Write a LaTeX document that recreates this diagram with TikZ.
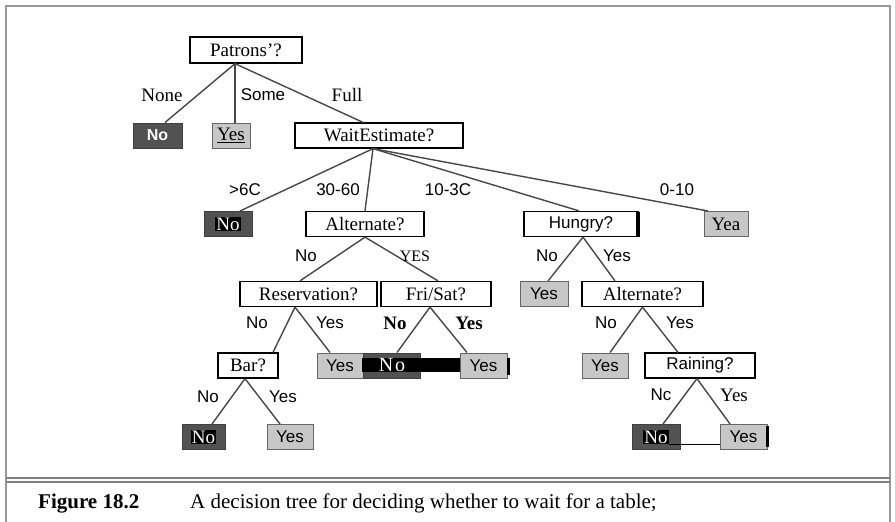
\documentclass[tikz,border=0pt]{standalone}
\usepackage{fontspec}
\setmainfont{Liberation Serif}
\setsansfont{Liberation Sans}
\begin{document}
\begin{tikzpicture}[x=1pt,y=-1pt,
 every node/.style={inner sep=0pt},
 sf/.style={font=\fontsize{17}{20}\selectfont\sffamily},
 rm/.style={font=\fontsize{19}{22}\selectfont\rmfamily},
 rmb/.style={font=\fontsize{19}{22}\selectfont\rmfamily\bfseries},
 capf/.style={font=\fontsize{21}{24}\selectfont\rmfamily},
 box/.style={minimum height=25pt, anchor=center},
 wbox/.style={box, draw=black, line width=1.3pt, fill=white},
 gbox/.style={box, draw=black!60, line width=1pt, fill=black!22},
 dbox/.style={box, draw=black!75, line width=1pt, fill=black!68, text=white},
 hl/.style={fill=black, text=white, inner sep=1pt},
 edge/.style={draw=black!72, line width=1.4pt},
 framel/.style={draw=black!40, line width=2pt},
 rule/.style={draw=black!50, line width=1.2pt}]
\useasboundingbox (0,0) rectangle (895,522);
% frame
\draw[framel] (6,522) -- (6,6) -- (890,6) -- (890,522);
\draw[rule] (6,478) -- (890,478);
\draw[rule] (6,482) -- (890,482);

% row 1
\node[wbox, rm, minimum width=112pt, minimum height=26pt] (pat) at (246,50) {Patrons'?};
% row 2
\node[dbox, font=\fontsize{16}{19}\selectfont\sffamily\bfseries, minimum width=49pt] (n1) at (157.5,135.5) {No};
\node[gbox, rm, minimum width=38pt] (y1) at (231,135.5) {\underline{Yes}};
\node[wbox, rm, minimum width=168pt] (wait) at (379,135.5) {WaitEstimate?};
% row 3
\node[dbox, minimum width=48pt] (n2) at (228,224) {};
\node[hl, rm] (n2t) at (n2) {No};
\node[wbox, rm, minimum width=118pt] (alt1) at (365,224) {Alternate?};
\node[wbox, sf, minimum width=114pt] (hun) at (581,224) {Hungry?};
\fill[black] (636,211.5) rectangle (640,236.5);
\node[gbox, rm, minimum width=44pt] (yea) at (726,224) {Yea};
% row 4
\node[wbox, rm, minimum width=137pt] (res) at (308.5,294) {Reservation?};
\node[wbox, rm, minimum width=110pt] (fri) at (436,294) {Fri/Sat?};
\node[gbox, sf, minimum width=48pt] (y2) at (544,294) {Yes};
\node[wbox, rm, minimum width=121pt] (alt2) at (642.5,294) {Alternate?};
% row 5
\node[wbox, rm, minimum width=60pt] (bar) at (248,365.5) {Bar?};
\node[gbox, sf, minimum width=46pt] (y3) at (340,365.5) {Yes};
\node[dbox, minimum width=57pt] (n3) at (391.5,365.5) {};
\fill[black] (362,358) rectangle (460,372);
\node[text=white, font=\fontsize{20}{22}\selectfont\rmfamily] (n3t) at (392,365) {N\kern2pt o};
\node[gbox, sf, minimum width=47pt] (y4) at (483.5,365.5) {Yes};
\fill[black] (507,358) rectangle (510,375);
\node[gbox, sf, minimum width=46pt] (y5) at (605,365.5) {Yes};
\node[wbox, sf, minimum width=110pt] (rain) at (700,365.5) {Raining?};
% row 6
\node[dbox, minimum width=43pt] (n4) at (203.5,437) {};
\node[hl, rm] (n4t) at (n4) {No};
\node[gbox, sf, minimum width=46pt] (y6) at (290,437) {Yes};
\node[dbox, minimum width=48pt] (n5) at (656,437) {};
\node[hl, rm] (n5t) at (n5) {No};
\node[gbox, sf, minimum width=47pt] (y7) at (743.5,437) {Yes};
\fill[black] (766,426) rectangle (769,447);
\draw[black, line width=1pt] (n5t.south east) -- (y7.west |- n5t.south east);

% edges
\draw[edge] ([xshift=-11pt]pat.south) -- ([xshift=7.5pt]n1.north);
\draw[edge] ([xshift=-11pt]pat.south) -- ([xshift=4pt]y1.north);
\draw[edge] ([xshift=-11pt]pat.south) -- ([xshift=-16pt]wait.north);
\draw[edge] ([xshift=-6pt]wait.south) -- ([xshift=12pt]n2.north);
\draw[edge] ([xshift=-6pt]wait.south) -- (alt1.north);
\draw[edge] ([xshift=-6pt]wait.south) -- ([xshift=-2pt]hun.north);
\draw[edge] ([xshift=-6pt]wait.south) -- ([xshift=-18pt]yea.north);
\draw[edge] (alt1.south) -- ([xshift=-8.5pt]res.north);
\draw[edge] (alt1.south) -- ([xshift=2pt]fri.north);
\draw[edge] ([xshift=2pt]hun.south) -- ([xshift=4pt]y2.north);
\draw[edge] ([xshift=2pt]hun.south) -- ([xshift=-27.5pt]alt2.north);
\draw[edge] ([xshift=-13.5pt]res.south) -- ([xshift=25pt]bar.north);
\draw[edge] ([xshift=-13.5pt]res.south) -- ([xshift=-10pt]y3.north);
\draw[edge] ([xshift=-6pt]fri.south) -- ([xshift=5.5pt]n3.north);
\draw[edge] ([xshift=-6pt]fri.south) -- ([xshift=-16.5pt]y4.north);
\draw[edge] (alt2.south) -- ([xshift=5pt]y5.north);
\draw[edge] (alt2.south) -- ([xshift=-22pt]rain.north);
\draw[edge] ([xshift=-3pt]bar.south) -- ([xshift=8.5pt]n4.north);
\draw[edge] ([xshift=-3pt]bar.south) -- ([xshift=-10pt]y6.north);
\draw[edge] ([xshift=-3pt]rain.south) -- ([xshift=7pt]n5.north);
\draw[edge] ([xshift=-3pt]rain.south) -- ([xshift=-13.5pt]y7.north);

% edge labels
\node[rm] (lnone) at (162,95) {None};
\node[sf] (lsome) at (263,95) {Some};
\node[rm] (lfull) at (347,95) {Full};
\node[sf] (l60) at (245,190) {>6C};
\node[sf] (l3060) at (338,190) {30-60};
\node[sf] (l1030) at (448,190) {10-3C};
\node[sf] (l010) at (677,190) {0-10};
\node[sf] (la1n) at (306,256) {No};
\node[rm, font=\fontsize{16}{19}\selectfont\rmfamily] (la1y) at (415,256) {YES};
\node[sf] (lhn) at (547,256) {No};
\node[sf] (lhy) at (617,256) {Yes};
\node[sf] (lrn) at (257,323) {No};
\node[sf] (lry) at (330,323) {Yes};
\node[rmb] (lfn) at (395,323) {No};
\node[rmb] (lfy) at (469,323) {Yes};
\node[sf] (la2n) at (606,323) {No};
\node[sf] (la2y) at (680,323) {Yes};
\node[sf] (lbn) at (208,397) {No};
\node[sf] (lby) at (283,397) {Yes};
\node[sf] (lrnn) at (661,395) {Nc};
\node[rm] (lrny) at (734,395) {Yes};

% caption
\node[capf, font=\fontsize{21}{24}\selectfont\rmfamily\bfseries, anchor=base west] (fig) at (38,508) {Figure 18.2};
\node[capf, anchor=base west] (cap) at (190,508) {A decision tree for deciding whether to wait for a table;};
\end{tikzpicture}
\end{document}
